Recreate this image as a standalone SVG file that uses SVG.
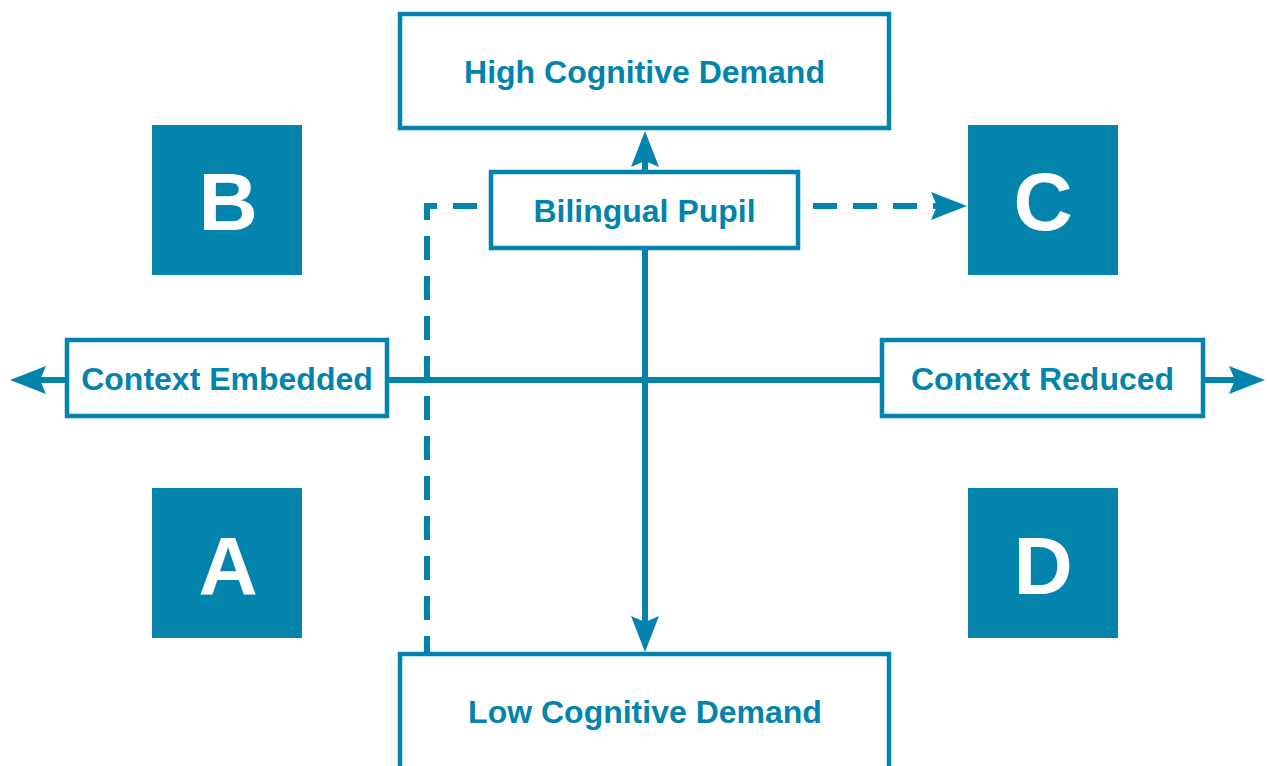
<svg xmlns="http://www.w3.org/2000/svg" width="1267" height="766" viewBox="0 0 1267 766">
<style>
.box{fill:#fff;stroke:#0284ac;stroke-width:4.5}
.sq{fill:#0284ac}
.lbl{font-family:"Liberation Sans",Arial,sans-serif;font-weight:bold;font-size:32px;fill:#0284ac;text-anchor:middle}
.big{font-family:"Liberation Sans",Arial,sans-serif;font-weight:bold;font-size:82px;fill:#fff;text-anchor:middle}
.ln{fill:none;stroke:#0284ac;stroke-width:6}
.dash{fill:none;stroke:#0284ac;stroke-width:6;stroke-dasharray:24 16}
</style>
<defs>
<marker id="ah" markerUnits="userSpaceOnUse" markerWidth="40" markerHeight="30" refX="6" refY="14" orient="auto" viewBox="0 0 40 28">
<path d="M0,0 L36,14 L0,28 L6,14 Z" fill="#0284ac"/>
</marker>
</defs>
<g id="connectors">
<line class="ln" x1="645" y1="380" x2="40" y2="380" marker-end="url(#ah)"/>
<line class="ln" x1="645" y1="380" x2="1235" y2="380" marker-end="url(#ah)"/>
<line class="ln" x1="645" y1="172" x2="645" y2="161" marker-end="url(#ah)"/>
<line class="ln" x1="645" y1="248" x2="645" y2="622" marker-end="url(#ah)"/>
<path class="dash" d="M477,206 L427,206 L427,652"/>
<line class="dash" x1="813" y1="206" x2="937" y2="206" marker-end="url(#ah)"/>
</g>
<g id="high"><rect class="box" x="400" y="14" width="489" height="114"/><text class="lbl" x="644.5" y="83">High Cognitive Demand</text></g>
<g id="low"><rect class="box" x="400" y="654" width="489" height="130"/><text class="lbl" x="645" y="723">Low Cognitive Demand</text></g>
<g id="pupil"><rect class="box" x="491" y="172" width="307" height="76"/><text class="lbl" x="644.5" y="222">Bilingual Pupil</text></g>
<g id="embedded"><rect class="box" x="67" y="340" width="320" height="76"/><text class="lbl" x="227" y="390">Context Embedded</text></g>
<g id="reduced"><rect class="box" x="882" y="340" width="321" height="76"/><text class="lbl" x="1042.5" y="390">Context Reduced</text></g>
<g id="B"><rect class="sq" x="152" y="125" width="150" height="150"/><text class="big" x="228" y="230">B</text></g>
<g id="C"><rect class="sq" x="968" y="125" width="150" height="150"/><text class="big" x="1043" y="230">C</text></g>
<g id="A"><rect class="sq" x="152" y="488" width="150" height="150"/><text class="big" x="228" y="594">A</text></g>
<g id="D"><rect class="sq" x="968" y="488" width="150" height="150"/><text class="big" x="1043" y="594">D</text></g>
</svg>
